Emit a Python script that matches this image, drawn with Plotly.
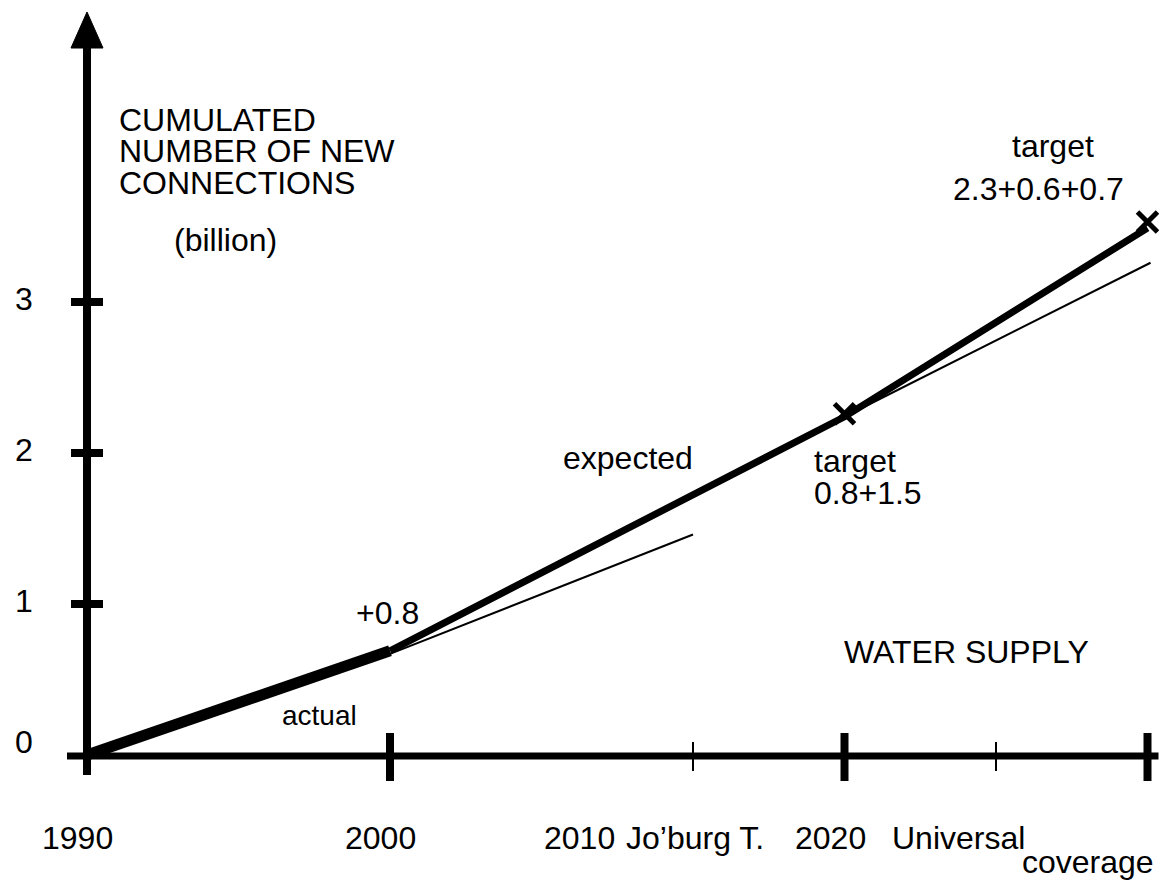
import plotly.graph_objects as go

# values (cumulated new connections, billion)
actual_years = [1990, 2000]
actual_values = [0.0, 0.69]

expected_years = [2000, 2015, 2025]
expected_values = [0.69, 2.24, 3.49]

trend_a_years = [2000, 2010]
trend_a_values = [0.67, 1.46]

trend_b_years = [2015, 2025.1]
trend_b_values = [2.24, 3.26]

target_years = [2015, 2025]
target_values = [2.26, 3.53]

y_ticks = [0, 1, 2, 3]
y_tick_labels = ['0', '1', '2', '3']
x_major = [2000, 2015, 2025]
x_minor = [2010, 2020]

FONT = 'Liberation Sans, Arial, Helvetica, sans-serif'
# the page body adds an 8px margin, so the figure is a bit smaller
W, H = 1159, 875
PX_YEAR = 30.3
PX_UNIT = 151.0
X_RANGE = [1990 - 79 / PX_YEAR, 1990 + (W - 79) / PX_YEAR]
Y_RANGE = [-(H - 747) / PX_UNIT, 747 / PX_UNIT]


def dx(px):
    return px / PX_YEAR


def dy(px):
    return px / PX_UNIT


fig = go.Figure()

fig.add_trace(go.Scatter(x=actual_years, y=actual_values, mode='lines',
                         line=dict(color='black', width=11), hoverinfo='skip'))
fig.add_trace(go.Scatter(x=expected_years, y=expected_values, mode='lines',
                         line=dict(color='black', width=7), hoverinfo='skip'))
fig.add_trace(go.Scatter(x=trend_a_years, y=trend_a_values, mode='lines',
                         line=dict(color='black', width=2), hoverinfo='skip'))
fig.add_trace(go.Scatter(x=trend_b_years, y=trend_b_values, mode='lines',
                         line=dict(color='black', width=2), hoverinfo='skip'))
fig.add_trace(go.Scatter(x=target_years, y=target_values, mode='markers',
                         marker=dict(symbol='x-thin', size=20, color='black',
                                     line=dict(color='black', width=5)),
                         hoverinfo='skip'))

shapes = []
# y axis with arrow head
shapes.append(dict(type='line', xref='x', yref='y', x0=1990, x1=1990,
                   y0=-dy(20), y1=Y_RANGE[1] - dy(40),
                   line=dict(color='black', width=8)))
yb = Y_RANGE[1] - dy(40)
yt = Y_RANGE[1] - dy(4)
hw = dx(16)
shapes.append(dict(type='path', xref='x', yref='y',
                   path=f'M {1990 - hw},{yb} L {1990 + hw},{yb} L 1990,{yt} Z',
                   fillcolor='black', line=dict(color='black', width=1)))
# x axis
shapes.append(dict(type='line', xref='x', yref='y', x0=1990 - dx(20), x1=2025 + dx(11),
                   y0=-dy(1), y1=-dy(1), line=dict(color='black', width=7)))
# y ticks
for v in y_ticks[1:]:
    shapes.append(dict(type='line', xref='x', yref='y', x0=1990 - dx(16), x1=1990 + dx(16),
                       y0=v, y1=v, line=dict(color='black', width=8)))
# x ticks
for v in x_major:
    shapes.append(dict(type='line', xref='x', yref='y', x0=v, x1=v,
                       y0=dy(22), y1=-dy(26), line=dict(color='black', width=8)))
for v in x_minor:
    shapes.append(dict(type='line', xref='x', yref='y', x0=v, x1=v,
                       y0=dy(13), y1=-dy(16), line=dict(color='black', width=2)))

annotations = []


def label(text, x, y, size=32, xanchor='center'):
    annotations.append(dict(text=text, x=x, y=y, xref='x', yref='y', showarrow=False,
                            xanchor=xanchor, yanchor='middle',
                            font=dict(family=FONT, size=size, color='black')))


for v, t in zip(y_ticks, y_tick_labels):
    label(t, 1990 - dx(63), v + (dy(13) if v == 0 else dy(3)))

label('CUMULATED', 1990.99, 4.205, xanchor='left')
label('NUMBER OF NEW', 1990.99, 4.00, xanchor='left')
label('CONNECTIONS', 1990.99, 3.79, xanchor='left')
label('(billion)', 1992.81, 3.41, xanchor='left')

label('+0.8', 1999.93, 0.94)
label('actual', 1997.66, 0.26, size=28)
label('expected', 2007.85, 1.97)
label('target', 2013.93, 1.95, xanchor='left')
label('0.8+1.5', 2013.93, 1.735, xanchor='left')
label('target', 2021.88, 4.03)
label('2.3+0.6+0.7', 2021.39, 3.75)
label('WATER SUPPLY', 2019.01, 0.68)

label('1990', 1989.70, -0.55)
label('2000', 1999.70, -0.55)
label('2010', 2006.27, -0.55)
label('Jo\u2019burg T.', 2010.07, -0.55)
label('2020', 2014.55, -0.55)
label('Universal', 2018.75, -0.55)
label('coverage', 2023.04, -0.71)

fig.update_layout(
    width=W, height=H,
    margin=dict(l=0, r=0, t=0, b=0),
    paper_bgcolor='white', plot_bgcolor='white',
    showlegend=False,
    xaxis=dict(range=X_RANGE, visible=False, fixedrange=True),
    yaxis=dict(range=Y_RANGE, visible=False, fixedrange=True),
    shapes=shapes,
    annotations=annotations,
)

fig.write_html("out.html")
